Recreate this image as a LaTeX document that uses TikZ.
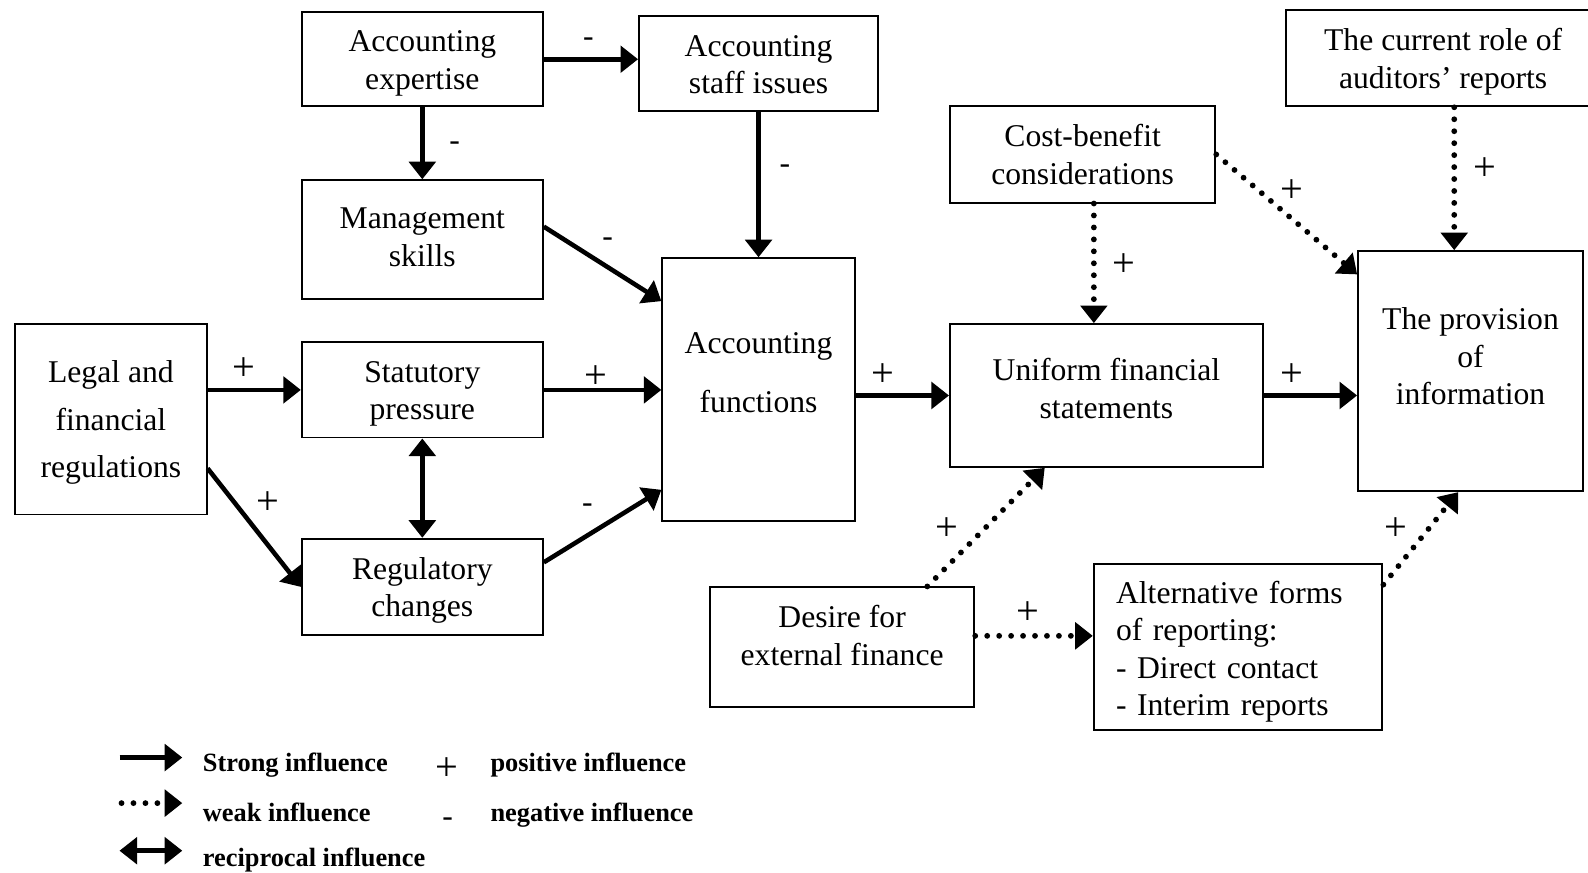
\documentclass[tikz,border=0pt]{standalone}
\usepackage{fontspec}
\setmainfont{Liberation Serif}
\usetikzlibrary{arrows.meta,calc}
\newcommand{\pxu}{0.020255cm}
\newcommand{\lift}[1]{\rule[-#1]{0pt}{#1}}
\newcommand{\tp}{\rule{0pt}{16.5pt}}
\tikzstyle{block} = [rectangle, draw, line width=1.1pt, align=center, inner sep=0pt, font=\fontsize{18}{21.3}\selectfont,
  execute at end node={\rule[-3.9pt]{0pt}{3.9pt}}]
\tikzstyle{line} = [draw, line width=2.6pt, -{Triangle[length=10pt,width=15pt]}]
\tikzstyle{weak} = [draw, line width=3.3pt, line cap=round, dash pattern=on 0pt off 6.8pt, -{Triangle[length=10pt,width=15pt]}]
\tikzstyle{both} = [draw, line width=2.6pt, {Triangle[length=10pt,width=15pt]}-{Triangle[length=10pt,width=15pt]}]
\tikzstyle{sign} = [font=\fontsize{18}{21}\selectfont, inner sep=0pt]
\tikzstyle{plus} = [font=\fontsize{23}{26}\selectfont, inner sep=0pt]
\tikzstyle{key} = [font=\fontsize{15}{17}\selectfont\bfseries, anchor=base west, inner sep=0pt]

\begin{document}
\begin{tikzpicture}[x=\pxu, y=-\pxu]
  \useasboundingbox (0,0) rectangle (1568,862);
  % Place nodes
  \node [block, minimum width=238*\pxu, minimum height=93*\pxu] (expert) at (417,58.5) {\tp Accounting\\expertise};
  \node [block, minimum width=236*\pxu, minimum height=94*\pxu] (staff) at (749,63) {\tp Accounting\\staff issues};
  \node [block, minimum width=238*\pxu, minimum height=117*\pxu] (skills) at (417,236.5) {\tp Management\\skills\lift{7.5pt}};
  \node [block, minimum width=189*\pxu, minimum height=188*\pxu, font=\fontsize{18}{27}\selectfont] (legal) at (109.5,414) {\tp Legal and\\financial\\regulations};
  \node [block, minimum width=238*\pxu, minimum height=94*\pxu] (stat) at (417,385) {\tp Statutory\\pressure};
  \node [block, minimum width=238*\pxu, minimum height=95*\pxu] (reg) at (417,579.5) {\tp Regulatory\\changes};
  \node [block, minimum width=190*\pxu, minimum height=259*\pxu, font=\fontsize{18}{33.5}\selectfont] (func) at (749,384.5) {\tp Accounting\\functions\lift{24pt}};
  \node [block, minimum width=262*\pxu, minimum height=95*\pxu] (cost) at (1069,152.5) {\tp Cost-benefit\\considerations};
  \node [block, minimum width=310*\pxu, minimum height=95*\pxu] (audit) at (1425,57.5) {\tp The current role of\\auditors' reports};
  \node [block, minimum width=309*\pxu, minimum height=141*\pxu] (unif) at (1092.5,390.5) {\tp Uniform financial\\statements\lift{12pt}};
  \node [block, minimum width=222*\pxu, minimum height=237*\pxu] (prov) at (1452,366.5) {\tp The provision\\of\\information\lift{21pt}};
  \node [block, minimum width=261*\pxu, minimum height=118*\pxu] (desire) at (831.5,639) {\tp Desire for\\external finance\lift{17pt}};
  \node [block, minimum width=285*\pxu, minimum height=164*\pxu, align=left, text width=241*\pxu] (alt) at (1222.5,639) {\rule{0pt}{18pt}Alternative forms\\of reporting:\\- Direct contact\\- Interim reports};
  % Points on the borders
  \coordinate (costs) at ($(cost.south west)!0.542!(cost.south east)$);
  \coordinate (audits) at ($(audit.south west)!0.535!(audit.south east)$);
  \coordinate (desiree) at ($(desire.south east)!0.593!(desire.north east)$);
  % Draw edges
  \path [line] (expert.east) -- (expert.east -| staff.west);
  \path [line] (expert.south) -- (skills.north);
  \path [line] (staff.south) -- (func.north);
  \path [line] ($(skills.south east)!0.607!(skills.north east)$) -- ($(func.south west)!0.834!(func.north west)$);
  \path [line] (legal.east |- stat.west) -- (stat.west);
  \path [line] ($(legal.south east)!0.245!(legal.north east)$) -- (reg.west);
  \path [both] (stat.south) -- (reg.north);
  \path [line] (stat.east) -- (stat.east -| func.west);
  \path [line] ($(reg.south east)!0.75!(reg.north east)$) -- ($(func.south west)!0.12!(func.north west)$);
  \path [line] (func.east |- unif.west) -- (unif.west);
  \path [line] (unif.east) -- (unif.east -| prov.west);
  \path [weak] (costs) -- (costs |- unif.north);
  \path [weak] (cost.east) -- ($(prov.north west)!0.1!(prov.south west)$);
  \path [weak] (audits) -- (audits |- prov.north);
  \path [weak] ($(desire.north west)!0.82!(desire.north east)$) -- ($(unif.south west)!0.304!(unif.south east)$);
  \path [weak] (desiree) -- (desiree -| alt.west);
  \path [weak] ($(alt.north east)!0.128!(alt.south east)$) -- ($(prov.south west)!0.446!(prov.south east)$);
  % Signs
  \node [sign] (s1) at (581,42) {-};
  \node [sign] (s2) at (449,144) {-};
  \node [sign] (s3) at (775,167) {-};
  \node [sign] (s4) at (600,239) {-};
  \node [plus] (s5) at (241,364) {+};
  \node [plus] (s6) at (265,497) {+};
  \node [sign] (s8) at (580,502) {-};
  \node [plus] (s7) at (588,372) {+};
  \node [plus] (s9) at (872,370) {+};
  \node [plus] (s10) at (1110,262) {+};
  \node [plus] (s11) at (1276,189) {+};
  \node [plus] (s12) at (1466,167) {+};
  \node [plus] (s13) at (1276,370) {+};
  \node [plus] (s14) at (935,522) {+};
  \node [plus] (s15) at (1015,605) {+};
  \node [plus] (s16) at (1378,522) {+};
  % Legend
  \coordinate (k1a) at (118,748); \coordinate (k1b) at (180,748);
  \coordinate (k2a) at (120,793); \coordinate (k2b) at (180,793);
  \coordinate (k3a) at (118,840); \coordinate (k3b) at (180,840);
  \path [line] (k1a) -- (k1b);
  \path [weak] (k2a) -- (k2b);
  \path [both] (k3a) -- (k3b);
  \node [key] (k1) at (200,762) {Strong influence};
  \node [key] (k2) at (200,811) {weak influence};
  \node [key] (k3) at (200,856) {reciprocal influence};
  \node [plus] (kp) at (441,759) {+};
  \node [sign] (km) at (442,812) {-};
  \node [key] (k4) at (484,762) {positive influence};
  \node [key] (k5) at (484,811) {negative influence};
\end{tikzpicture}
\end{document}
